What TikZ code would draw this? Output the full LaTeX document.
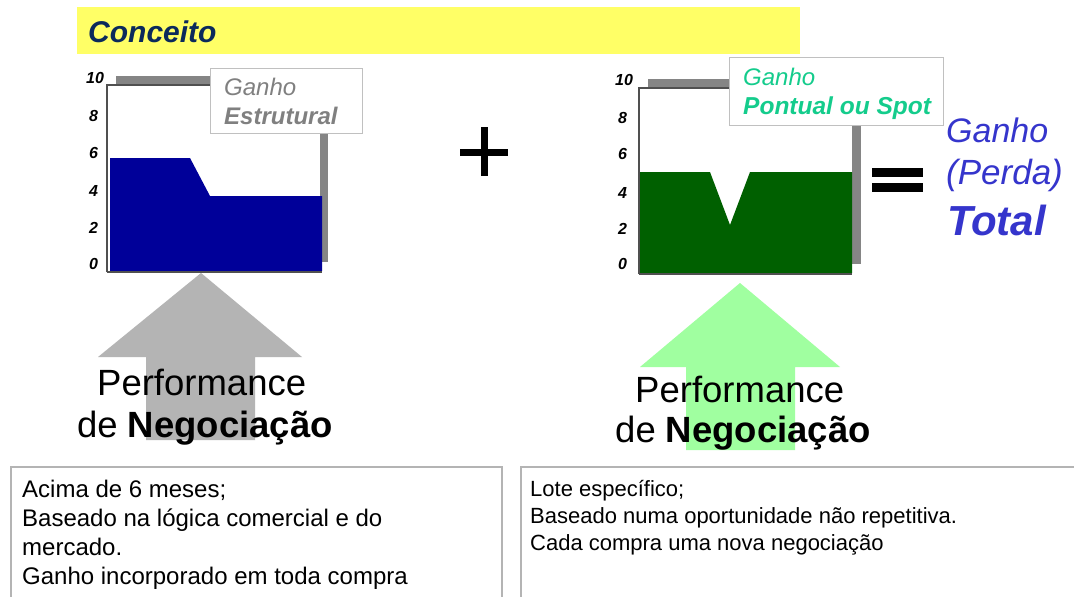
\documentclass[tikz,border=0pt]{standalone}
\usepackage{fontspec}
\setmainfont{Liberation Sans}
\definecolor{banner}{HTML}{FFFF66}
\definecolor{navytxt}{HTML}{0B2A5B}
\definecolor{bluefill}{HTML}{000099}
\definecolor{greenfill}{HTML}{006000}
\definecolor{shadowgray}{HTML}{858585}
\definecolor{framegray}{HTML}{505050}
\definecolor{lblborder}{HTML}{C0C0C0}
\definecolor{lblgray}{HTML}{808080}
\definecolor{spotgreen}{HTML}{14CC8C}
\definecolor{totalblue}{HTML}{3535CC}
\definecolor{arrowgray}{HTML}{B4B4B4}
\definecolor{arrowgreen}{HTML}{A0FFA0}
\definecolor{boxgray}{HTML}{B4B4B4}
\begin{document}
\begin{tikzpicture}[x=1pt,y=-1pt,
  ticklbl/.style={font=\fontsize{16}{16}\selectfont\bfseries\itshape, anchor=base west, inner sep=0},
  txt/.style={anchor=base west, inner sep=0},
  lblbox/.style={draw=lblborder, fill=white, line width=1.2, anchor=north west, inner sep=0},
  perf/.style={anchor=base west, inner sep=0, font=\fontsize{36.5}{40}\selectfont},
  boxtxt/.style={anchor=base west, inner sep=0, font=\fontsize{24}{29}\selectfont},
  boxtxtb/.style={anchor=base west, inner sep=0, font=\fontsize{22}{27}\selectfont},
  framebox/.style={boxgray, line width=2}
]
\useasboundingbox (0,0) rectangle (1074,597);
\fill[white] (0,0) rectangle (1074,597);

% banner
\fill[banner] (77,7) rectangle (800,54);
\node[txt, font=\fontsize{30}{30}\selectfont\bfseries\itshape, text=navytxt] (conceito) at (88,42) {Conceito};

% arrows (behind)
\fill[arrowgray] (201,273) -- (302,357) -- (255,357) -- (255,440) -- (146,440) -- (146,357) -- (98,357) -- cycle;
\fill[arrowgreen] (740,283) -- (840,367) -- (795,367) -- (795,450) -- (686,450) -- (686,367) -- (640,367) -- cycle;

% chart 1
\fill[shadowgray] (116,76) rectangle (328,262);
\fill[white] (107,85) rectangle (320,272);
\fill[bluefill] (110,158) -- (190,158) -- (210,196) -- (322,196) -- (322,271) -- (110,271) -- cycle;
\draw[framegray, line width=1.3] (107,272) -- (107,85) -- (320,85);
\draw[framegray, line width=1.3] (107,272) -- (322,272);
\node[ticklbl] (a10) at (86,83) {10};
\node[ticklbl] (a8) at (89,121) {8};
\node[ticklbl] (a6) at (89,158) {6};
\node[ticklbl] (a4) at (89,196) {4};
\node[ticklbl] (a2) at (89,233) {2};
\node[ticklbl] (a0) at (89,269) {0};
\node[lblbox, minimum width=152, minimum height=65] (lbl1) at (210,68) {};
\node[txt, font=\fontsize{24}{24}\selectfont\itshape, text=lblgray] (g1) at (224,95) {Ganho};
\node[txt, font=\fontsize{24}{24}\selectfont\bfseries\itshape, text=lblgray] (e1) at (224,124) {Estrutural};

% plus
\fill[black] (460,148.5) rectangle (508,155.5);
\fill[black] (480.5,127) rectangle (487.5,176);

% chart 2
\fill[shadowgray] (648,79) rectangle (861,264);
\fill[white] (639,88) rectangle (852,274);
\fill[greenfill] (640,172) -- (710,172) -- (730,225) -- (750,172) -- (852,172) -- (852,273) -- (640,273) -- cycle;
\draw[framegray, line width=1.3] (639,274) -- (639,88) -- (852,88);
\draw[framegray, line width=1.3] (639,274) -- (852,274);
\node[ticklbl] (b10) at (615,85) {10};
\node[ticklbl] (b8) at (618,123) {8};
\node[ticklbl] (b6) at (618,159) {6};
\node[ticklbl] (b4) at (618,198) {4};
\node[ticklbl] (b2) at (618,234) {2};
\node[ticklbl] (b0) at (618,269) {0};
\node[lblbox, minimum width=214, minimum height=68] (lbl2) at (729,57) {};
\node[txt, font=\fontsize{24}{24}\selectfont\itshape, text=spotgreen] (g2) at (743,85) {Ganho};
\node[txt, font=\fontsize{24.5}{24}\selectfont\bfseries\itshape, text=spotgreen] (p2) at (743,114) {Pontual ou Spot};

% equals
\fill[black] (872,168) rectangle (923,177);
\fill[black] (872,183) rectangle (923,192);

% total
\node[txt, font=\fontsize{34}{34}\selectfont\itshape, text=totalblue] (tg) at (946,142) {Ganho};
\node[txt, font=\fontsize{35}{35}\selectfont\itshape, text=totalblue] (tp) at (946,184) {(Perda)};
\node[txt, font=\fontsize{42}{42}\selectfont\bfseries\itshape, text=totalblue] (tt) at (947,235) {Total};

% performance texts
\node[perf] (perf1) at (97,395) {Performance};
\node[perf] (neg1) at (77,437) {de \textbf{Negociação}};
\node[perf] (perf2) at (635,402) {Performance};
\node[perf] (neg2) at (615,442) {de \textbf{Negociação}};

% bottom boxes
\draw[framebox] (11,605) -- (11,467) -- (502,467) -- (502,605);
\draw[framebox] (521,605) -- (521,467) -- (1080,467);
\node[boxtxt] (l1) at (22,497) {Acima de 6 meses;};
\node[boxtxt] (l2) at (22,526) {Baseado na lógica comercial e do};
\node[boxtxt] (l3) at (22,555) {mercado.};
\node[boxtxt] (l4) at (22,584) {Ganho incorporado em toda compra};
\node[boxtxtb] (r1) at (530,496) {Lote específico;};
\node[boxtxtb] (r2) at (530,523) {Baseado numa oportunidade não repetitiva.};
\node[boxtxtb] (r3) at (530,550) {Cada compra uma nova negociação};
\end{tikzpicture}
\end{document}
